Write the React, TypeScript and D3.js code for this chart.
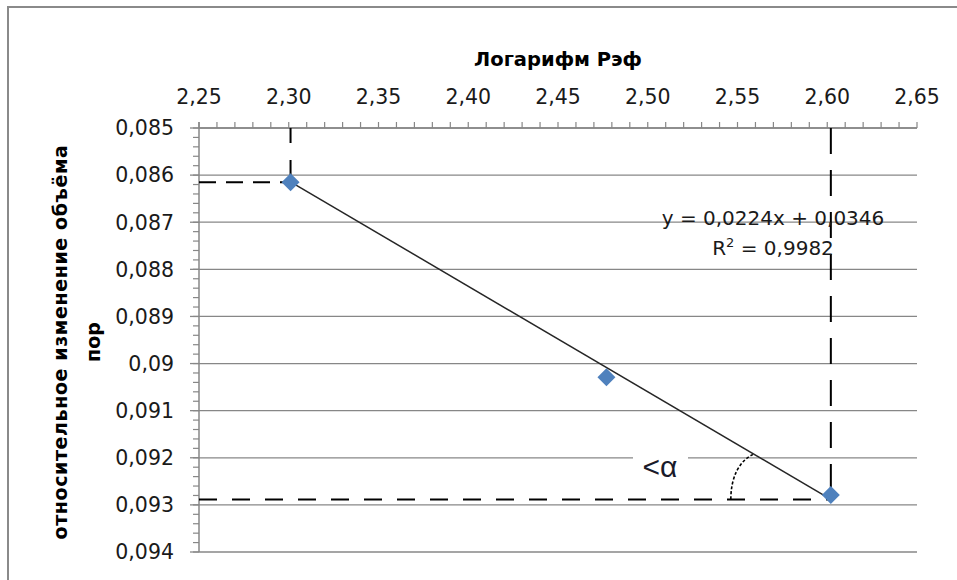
import React from "react";
import * as d3 from "d3";

// log of Reff (x) vs relative pore volume change (y)
const logReff = [2.301, 2.477, 2.602];
const volChange = [0.08615, 0.09029, 0.09279];

// trendline as printed on the chart
const slope = 0.0224;
const intercept = 0.0346;
const eqLabel = "y = 0,0224x + 0,0346";
const r2Label = "0,9982";

const xTitle = "Логарифм Рэф";
const yTitle1 = "относительное  изменение объёма";
const yTitle2 = "пор";
const angleLabel = "<α";

const W = 957;
const H = 580;

const App = () => {
  const x = d3.scaleLinear().domain([2.25, 2.65]).range([199, 917]);
  const y = d3.scaleLinear().domain([0.085, 0.094]).range([128, 552]);

  const xMajor = x.ticks(8);
  const xMinor = x.ticks(40);
  const yMajor = y.ticks(9);
  const yMinor = y.ticks(45);

  const fmtX = (v: number) => d3.format(".2f")(v).replace(".", ",");
  const fmtY = (v: number) => d3.format(".3~f")(v).replace(".", ",");

  const [x0, x1] = x.range();
  const [y0, y1] = y.range();

  const first = 0;
  const last = logReff.length - 1;
  const trendY = (v: number) => slope * v + intercept;

  const trend = d3
    .line<number>()
    .x(d => x(d))
    .y(d => y(trendY(d)));

  const px1 = x(logReff[first]);
  const py1 = y(volChange[first]);
  const px3 = x(logReff[last]);
  const py3 = y(trendY(logReff[last]));

  const font = "'DejaVu Sans', sans-serif";
  const grid = "#878787";

  return (
    <svg
      width={W}
      height={H}
      style={{ position: "absolute", left: 0, top: 0, background: "#fff" }}
    >
      {/* chart frame */}
      <path d={`M8,${H} L8,7 L${W},7`} fill="none" stroke="#8a8a8a" strokeWidth={2} />

      {/* gridlines */}
      {yMajor.map(t => (
        <line key={"g" + t} x1={x0} x2={x1} y1={y(t)} y2={y(t)} stroke={grid} strokeWidth={1.3} />
      ))}

      {/* top x axis */}
      <line x1={x0} x2={x1} y1={y0} y2={y0} stroke={grid} strokeWidth={1.5} />
      {xMinor.map(t => (
        <line key={"xm" + t} x1={x(t)} x2={x(t)} y1={y0} y2={y0 - 6} stroke={grid} strokeWidth={1.2} />
      ))}
      {xMajor.map(t => (
        <text
          key={"xl" + t}
          x={x(t)}
          y={104}
          textAnchor="middle"
          fontFamily={font}
          fontSize={20.5}
          fill="#1a1a1a"
        >
          {fmtX(t)}
        </text>
      ))}

      {/* left y axis */}
      <line x1={x0} x2={x0} y1={y0 - 6} y2={y1} stroke={grid} strokeWidth={1.5} />
      {yMinor.map(t => (
        <line key={"ym" + t} x1={x0 - 6} x2={x0} y1={y(t)} y2={y(t)} stroke={grid} strokeWidth={1.2} />
      ))}
      {yMajor.map(t => (
        <g key={"yl" + t}>
          <line x1={x0 - 9} x2={x0} y1={y(t)} y2={y(t)} stroke={grid} strokeWidth={1.3} />
          <text
            x={174}
            y={y(t)}
            dy="0.36em"
            textAnchor="end"
            fontFamily={font}
            fontSize={20.5}
            fill="#1a1a1a"
          >
            {fmtY(t)}
          </text>
        </g>
      ))}

      {/* titles */}
      <text
        x={(x0 + x1) / 2}
        y={66}
        textAnchor="middle"
        fontFamily={font}
        fontWeight="bold"
        fontSize={19.5}
        fill="#000"
      >
        {xTitle}
      </text>
      <text
        transform="translate(60,342) rotate(-90)"
        textAnchor="middle"
        dominantBaseline="central"
        fontFamily={font}
        fontWeight="bold"
        fontSize={19}
        letterSpacing={0.6}
        fill="#000"
      >
        {yTitle1}
      </text>
      <text
        transform="translate(93,342) rotate(-90)"
        textAnchor="middle"
        dominantBaseline="central"
        fontFamily={font}
        fontWeight="bold"
        fontSize={19}
        fill="#000"
      >
        {yTitle2}
      </text>

      {/* guide lines */}
      <g stroke="#000" strokeWidth={2} fill="none">
        <line x1={x0} x2={px1} y1={py1} y2={py1} strokeDasharray="17,10" />
        <line x1={px1} x2={px1} y1={y0} y2={py1} strokeDasharray="15,17" />
        <line x1={x0} x2={px3} y1={py3} y2={py3} strokeDasharray="18,15" />
        <line x1={px3} x2={px3} y1={y0} y2={py3} strokeDasharray="26,16" />
      </g>

      {/* trendline */}
      <path
        d={trend([logReff[first], logReff[last]]) || ""}
        fill="none"
        stroke="#262626"
        strokeWidth={1.5}
      />

      {/* points */}
      {logReff.map((v, i) => {
        const cx = x(v);
        const cy = y(volChange[i]);
        const r = 9;
        return (
          <path
            key={"p" + i}
            d={`M${cx},${cy - r} L${cx + r},${cy} L${cx},${cy + r} L${cx - r},${cy} Z`}
            fill="#4f81bd"
          />
        );
      })}

      {/* angle mark */}
      <path
        d={`M${px3 - 100},${py3} C${px3 - 100},${py3 - 22} ${px3 - 92},${py3 - 38} ${px3 - 78},${py3 - 45}`}
        fill="none"
        stroke="#000"
        strokeWidth={1.6}
        strokeDasharray="3,2"
      />
      <rect x={633} y={447} width={55} height={30} fill="#fff" />
      <text
        x={660}
        y={477}
        textAnchor="middle"
        fontFamily="'Liberation Sans', sans-serif"
        fontSize={30}
        fill="#1a1a2a"
      >
        {angleLabel}
      </text>

      {/* equation */}
      <text x={773} y={225} textAnchor="middle" fontFamily={font} fontSize={20} fill="#1a1a1a">
        {eqLabel}
      </text>
      <text x={773} y={255} textAnchor="middle" fontFamily={font} fontSize={20} fill="#1a1a1a">
        R
        <tspan dy={-8} fontSize={13}>
          2
        </tspan>
        <tspan dy={8}> = {r2Label}</tspan>
      </text>
    </svg>
  );
};

export default App;
